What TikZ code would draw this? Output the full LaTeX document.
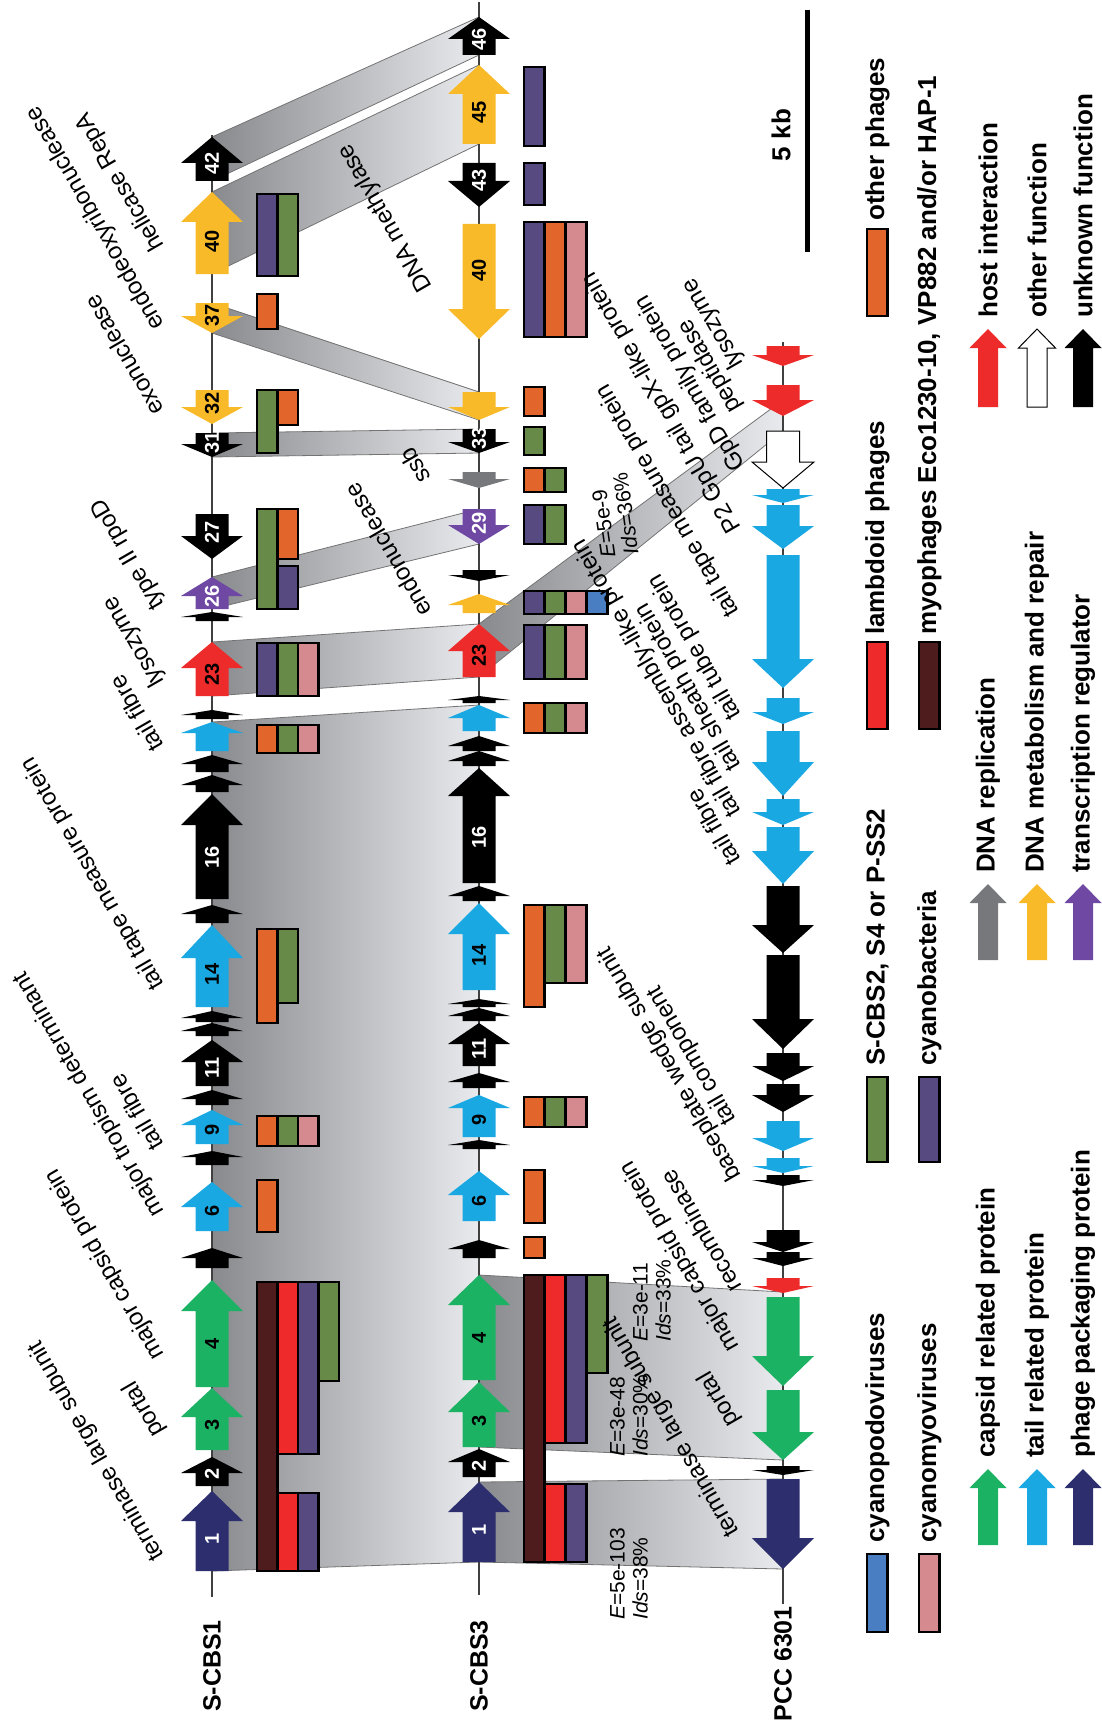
\documentclass[tikz,border=0pt]{standalone}
\usepackage{fontspec}
\setmainfont{Liberation Sans}
\definecolor{cNavy}{RGB}{44,46,110}
\definecolor{cCapsid}{RGB}{28,178,100}
\definecolor{cTail}{RGB}{26,168,226}
\definecolor{cRed}{RGB}{238,43,43}
\definecolor{cYel}{RGB}{248,186,40}
\definecolor{cPurp}{RGB}{110,72,162}
\definecolor{cGrayA}{RGB}{118,120,124}
\definecolor{bGreen}{RGB}{104,138,72}
\definecolor{bPurp}{RGB}{86,74,128}
\definecolor{bOrange}{RGB}{226,102,44}
\definecolor{bRed}{RGB}{238,42,42}
\definecolor{bBrown}{RGB}{78,28,28}
\definecolor{bBlue}{RGB}{74,126,194}
\definecolor{bPink}{RGB}{212,138,142}
\definecolor{bandDark}{RGB}{136,138,142}
\definecolor{bandLight}{RGB}{232,234,237}
\newcommand{\gene}[5]{\fill[#5] (#1-16.5,#2) -- (#1-16.5,#3) -- (#1-31,#3) -- (#1,#4) -- (#1+31,#3) -- (#1+16.5,#3) -- (#1+16.5,#2) -- cycle;}
\newcommand{\gnum}[6]{\node[num,text=#5] (#6) at (#1,{#3+0.6*(#2-#3)}) {#4};}
\newcommand{\bx}[4]{\filldraw[fill=#4,draw=black,line width=2.6pt] (#1,#2) rectangle (#1+20.5,#3);}
\newcommand{\band}[6]{\path[bandst] (#1,#2) -- (#4,#5) -- (#4,#6) -- (#1,#3) -- cycle;}
\newcommand{\lgarrow}[5]{\filldraw[#5] (#1-10,#2) -- (#1-10,#3) -- (#1-18.5,#3) -- (#1,#4) -- (#1+18.5,#3) -- (#1+10,#3) -- (#1+10,#2) -- cycle;}
\begin{document}
\begin{tikzpicture}[x=1pt,y=-1pt,
  num/.style={font=\bfseries\fontsize{20}{20}\selectfont, rotate=90, inner sep=0pt},
  glab/.style={font=\fontsize{24}{28}\selectfont, rotate=120, anchor=base west, inner sep=0pt},
  evl/.style={font=\fontsize{21}{23}\selectfont, rotate=90, anchor=west, align=left, inner sep=0pt},
  gname/.style={font=\bfseries\fontsize{25}{28}\selectfont, rotate=90, anchor=east, inner sep=0pt},
  legt/.style={font=\bfseries\fontsize{26}{30}\selectfont, rotate=90, anchor=west, inner sep=0pt},
  bandst/.style={draw=black!55, line width=0.8pt, left color=bandDark, right color=bandLight},
  gline/.style={draw=black!75, line width=1.6pt}]
\useasboundingbox (0,0) rectangle (1101,1720);
\def\xa{212}\def\xb{479}\def\xc{783}
% ---------- homology bands ----------
\band{\xa}{137}{181}{\xb}{17}{55}
\band{\xa}{192}{274}{\xb}{65}{144}
\band{\xa}{303}{333}{\xb}{392}{420}
\band{\xa}{433}{457}{\xb}{429}{453}
\band{\xa}{577}{609}{\xb}{509}{544}
\band{\xa}{642}{696}{\xb}{624}{677}
\band{\xa}{722}{1571}{\xb}{705}{1562}
\band{\xb}{1482}{1562}{\xc}{1479}{1569}
\band{\xb}{1275}{1447}{\xc}{1292}{1460}
\band{\xb}{624}{677}{\xc}{400}{431}
% ---------- genome lines ----------
\draw[gline] (\xa,135) -- (\xa,1597);
\draw[gline] (\xb,2) -- (\xb,1595);
\draw[gline] (\xc,342) -- (\xc,1604);
% ---------- S-CBS1 genes ----------
\gene{\xa}{1571}{1521}{1491}{cNavy}\gnum{\xa}{1571}{1491}{1}{white}{a1}
\gene{\xa}{1486}{1473}{1457}{black}\gnum{\xa}{1486}{1457}{2}{white}{a2}
\gene{\xa}{1450}{1417}{1388}{cCapsid}\gnum{\xa}{1450}{1388}{3}{black}{a3}
\gene{\xa}{1387}{1311}{1280}{cCapsid}\gnum{\xa}{1387}{1280}{4}{black}{a4}
\gene{\xa}{1268}{1258}{1248}{black}
\gene{\xa}{1231}{1207}{1182}{cTail}\gnum{\xa}{1231}{1182}{6}{black}{a6}
\gene{\xa}{1165}{1157}{1151}{black}
\gene{\xa}{1144}{1125}{1110}{cTail}\gnum{\xa}{1144}{1110}{9}{black}{a9}
\gene{\xa}{1105}{1099}{1090}{black}
\gene{\xa}{1086}{1062}{1040}{black}\gnum{\xa}{1086}{1040}{11}{white}{a11}
\gene{\xa}{1036}{1031}{1023}{black}
\gene{\xa}{1022}{1018}{1011}{black}
\gene{\xa}{1007}{958}{925}{cTail}\gnum{\xa}{1007}{925}{14}{black}{a14}
\gene{\xa}{923}{914}{905}{black}
\gene{\xa}{899}{825}{794}{black}\gnum{\xa}{899}{794}{16}{white}{a16}
\gene{\xa}{792}{785}{775}{black}
\gene{\xa}{772}{764}{755}{black}
\gene{\xa}{751}{733}{722}{cTail}
\gene{\xa}{719}{715}{710}{black}
\gene{\xa}{696}{668}{642}{cRed}\gnum{\xa}{696}{642}{23}{black}{a23}
\gene{\xa}{621}{617}{612}{black}
\gene{\xa}{609}{596}{577}{cPurp}\gnum{\xa}{609}{577}{26}{white}{a26}
\gene{\xa}{514}{536}{559}{black}\gnum{\xa}{514}{559}{27}{white}{a27}
\gene{\xa}{433}{444}{457}{black}\gnum{\xa}{433}{457}{31}{white}{a31}
\gene{\xa}{390}{407}{424}{cYel}\gnum{\xa}{390}{424}{32}{black}{a32}
\gene{\xa}{303}{316}{333}{cYel}\gnum{\xa}{303}{333}{37}{black}{a37}
\gene{\xa}{274}{222}{192}{cYel}\gnum{\xa}{274}{192}{40}{black}{a40}
\gene{\xa}{181}{163}{137}{black}\gnum{\xa}{181}{137}{42}{white}{a42}
% ---------- S-CBS3 genes ----------
\gene{\xb}{55}{39}{17}{black}\gnum{\xb}{55}{17}{46}{white}{b46}
\gene{\xb}{144}{94}{65}{cYel}\gnum{\xb}{144}{65}{45}{black}{b45}
\gene{\xb}{163}{181}{207}{black}\gnum{\xb}{163}{207}{43}{white}{b43}
\gene{\xb}{224}{309}{339}{cYel}\gnum{\xb}{224}{339}{40}{black}{b40}
\gene{\xb}{392}{407}{420}{cYel}
\gene{\xb}{429}{442}{453}{black}\gnum{\xb}{429}{453}{33}{white}{b33}
\gene{\xb}{472}{479}{488}{cGrayA}
\gene{\xb}{509}{525}{544}{cPurp}\gnum{\xb}{509}{544}{29}{white}{b29}
\gene{\xb}{570}{575}{581}{black}
\gene{\xb}{613}{605}{594}{cYel}
\gene{\xb}{677}{651}{624}{cRed}\gnum{\xb}{677}{624}{23}{black}{b23}
\gene{\xb}{703}{700}{696}{black}
\gene{\xb}{731}{718}{705}{cTail}
\gene{\xb}{751}{746}{736}{black}
\gene{\xb}{766}{761}{751}{black}
\gene{\xb}{883}{796}{768}{black}\gnum{\xb}{883}{768}{16}{white}{b16}
\gene{\xb}{901}{896}{886}{black}
\gene{\xb}{990}{934}{903}{cTail}\gnum{\xb}{990}{903}{14}{black}{b14}
\gene{\xb}{1007}{1004}{999}{black}
\gene{\xb}{1021}{1016}{1008}{black}
\gene{\xb}{1066}{1044}{1023}{black}\gnum{\xb}{1066}{1023}{11}{white}{b11}
\gene{\xb}{1088}{1082}{1073}{black}
\gene{\xb}{1137}{1108}{1095}{cTail}\gnum{\xb}{1137}{1095}{9}{black}{b9}
\gene{\xb}{1149}{1145}{1140}{black}
\gene{\xb}{1221}{1195}{1171}{cTail}\gnum{\xb}{1221}{1171}{6}{black}{b6}
\gene{\xb}{1258}{1249}{1240}{black}
\gene{\xb}{1380}{1305}{1275}{cCapsid}\gnum{\xb}{1380}{1275}{4}{black}{b4}
\gene{\xb}{1447}{1412}{1382}{cCapsid}\gnum{\xb}{1447}{1382}{3}{black}{b3}
\gene{\xb}{1477}{1462}{1449}{black}\gnum{\xb}{1477}{1449}{2}{white}{b2}
\gene{\xb}{1562}{1512}{1482}{cNavy}\gnum{\xb}{1562}{1482}{1}{white}{b1}
% ---------- PCC 6301 genes ----------
\gene{\xc}{346}{355}{366}{cRed}
\gene{\xc}{385}{400}{416}{cRed}
\filldraw[fill=white,draw=black,line width=1pt] (\xc-16.5,431) -- (\xc-16.5,462) -- (\xc-31,462) -- (\xc,488) -- (\xc+31,462) -- (\xc+16.5,462) -- (\xc+16.5,431) -- cycle;
\gene{\xc}{489}{495}{503}{cTail}
\gene{\xc}{505}{526}{549}{cTail}
\gene{\xc}{555}{659}{688}{cTail}
\gene{\xc}{698}{712}{724}{cTail}
\gene{\xc}{731}{762}{796}{cTail}
\gene{\xc}{799}{812}{825}{cTail}
\gene{\xc}{827}{851}{884}{cTail}
\gene{\xc}{886}{925}{953}{black}
\gene{\xc}{955}{1019}{1049}{black}
\gene{\xc}{1053}{1066}{1081}{black}
\gene{\xc}{1084}{1095}{1112}{black}
\gene{\xc}{1121}{1138}{1151}{cTail}
\gene{\xc}{1158}{1166}{1173}{cTail}
\gene{\xc}{1175}{1180}{1186}{black}
\gene{\xc}{1230}{1242}{1252}{black}
\gene{\xc}{1252}{1258}{1266}{black}
\gene{\xc}{1278}{1286}{1293}{cRed}
\gene{\xc}{1297}{1356}{1386}{cCapsid}
\gene{\xc}{1390}{1432}{1460}{cCapsid}
\gene{\xc}{1466}{1470}{1475}{black}
\gene{\xc}{1479}{1538}{1569}{cNavy}
% ---------- S-CBS1 boxes ----------
\def\ca{257}\def\cb{277.5}\def\cc{298}\def\cd{318.5}
\bx{\ca}{194}{276}{bPurp}\bx{\cb}{194}{276}{bGreen}
\bx{\ca}{294}{329}{bOrange}
\bx{\ca}{390}{453}{bGreen}\bx{\cb}{390}{425}{bOrange}
\bx{\ca}{509}{609}{bGreen}\bx{\cb}{509}{559}{bOrange}\bx{\cb}{566}{609}{bPurp}
\bx{\ca}{643}{696}{bPurp}\bx{\cb}{643}{696}{bGreen}\bx{\cc}{643}{696}{bPink}
\bx{\ca}{725}{753}{bOrange}\bx{\cb}{725}{753}{bGreen}\bx{\cc}{725}{753}{bPink}
\bx{\ca}{929}{1023}{bOrange}\bx{\cb}{929}{1003}{bGreen}
\bx{\ca}{1116}{1146}{bOrange}\bx{\cb}{1116}{1146}{bGreen}\bx{\cc}{1116}{1146}{bPink}
\bx{\ca}{1180}{1232}{bOrange}
\bx{\ca}{1282}{1571}{bBrown}
\bx{\cb}{1282}{1454}{bRed}\bx{\cc}{1282}{1454}{bPurp}\bx{\cd}{1282}{1381}{bGreen}
\bx{\cb}{1493}{1571}{bRed}\bx{\cc}{1493}{1571}{bPurp}
% ---------- S-CBS3 boxes ----------
\def\da{524}\def\db{545}\def\dc{566}\def\dd{587}
\bx{\da}{67}{146}{bPurp}
\bx{\da}{163}{205}{bPurp}
\bx{\da}{222}{337}{bPurp}\bx{\db}{222}{337}{bOrange}\bx{\dc}{222}{337}{bPink}
\bx{\da}{387}{416}{bOrange}
\bx{\da}{427}{455}{bGreen}
\bx{\da}{468}{492}{bOrange}\bx{\db}{468}{492}{bGreen}
\bx{\da}{505}{544}{bPurp}\bx{\db}{505}{544}{bGreen}
\bx{\da}{591}{614}{bPurp}\bx{\db}{591}{614}{bGreen}\bx{\dc}{591}{614}{bPink}\bx{\dd}{591}{614}{bBlue}
\bx{\da}{625}{679}{bPurp}\bx{\db}{625}{679}{bGreen}\bx{\dc}{625}{679}{bPink}
\bx{\da}{703}{733}{bOrange}\bx{\db}{703}{733}{bGreen}\bx{\dc}{703}{733}{bPink}
\bx{\da}{905}{1007}{bOrange}\bx{\db}{905}{983}{bGreen}\bx{\dc}{905}{983}{bPink}
\bx{\da}{1097}{1127}{bOrange}\bx{\db}{1097}{1127}{bGreen}\bx{\dc}{1097}{1127}{bPink}
\bx{\da}{1170}{1223}{bOrange}
\bx{\da}{1237}{1258}{bOrange}
\bx{\da}{1275}{1562}{bBrown}
\bx{\db}{1275}{1443}{bRed}\bx{\dc}{1275}{1443}{bPurp}\bx{\dd}{1275}{1373}{bGreen}
\bx{\db}{1484}{1562}{bRed}\bx{\dc}{1484}{1562}{bPurp}
% ---------- genome names ----------
\node[gname] (n1) at (\xa,1620) {S-CBS1};
\node[gname] (n2) at (\xb,1620) {S-CBS3};
\node[gname] (n3) at (\xc,1606) {PCC 6301};
% ---------- S-CBS1 labels ----------
\node[glab] (s1) at (165,1556) {terminase large subunit};
\node[glab] (s2) at (165,1432) {portal};
\node[glab] (s3) at (165,1355) {major capsid protein};
\node[glab] (s4) at (165,1212) {major tropism determinant};
\node[glab] (s5) at (165,1145) {tail fibre};
\node[glab] (s6) at (165,985) {tail tape measure protein};
\node[glab] (s7) at (165,746) {tail fibre};
\node[glab] (s8) at (165,682) {lysozyme};
\node[glab] (s9) at (165,605) {type II rpoD};
\node[glab] (s10) at (165,410) {exonuclease};
\node[glab] (s11) at (165,325) {endodeoxyribonuclease};
\node[glab] (s12) at (165,246) {helicase RepA};
% ---------- S-CBS3 labels ----------
\node[glab] (t1) at (433,287) {DNA methylase};
\node[glab] (t2) at (432,478) {ssb};
\node[glab] (t3) at (433,611) {endonuclease};
% ---------- PCC labels ----------
\node[glab] (p1) at (744,364) {lysozyme};
\node[glab] (p2) at (742,408) {peptidase};
\node[glab] (p3) at (746,466) {GpD family protein};
\node[glab] (p4) at (742,528) {P2 GpU tail gpX-like protein};
\node[glab] (p5) at (740,612) {tail tape measure protein};
\node[glab] (p6) at (742,715) {tail tube protein};
\node[glab] (p7) at (742,766) {tail sheath protein};
\node[glab] (p8) at (742,812) {tail fibre assembly-like protein};
\node[glab] (p9) at (742,860) {tail fibre};
\node[glab] (p10) at (737,1120) {tail component};
\node[glab] (p11) at (742,1176) {baseplate wedge subunit};
\node[glab] (p12) at (743,1287) {recombinase};
\node[glab] (p13) at (740,1347) {major capsid protein};
\node[glab] (p14) at (740,1422) {portal};
\node[glab] (p15) at (740,1532) {terminase large subunit};
% ---------- E values ----------
\node[evl] (e1) at (629,1620) {\textit{E}=5e-103\\\textit{Ids}=38\%};
\node[evl] (e2) at (629,1457) {\textit{E}=3e-48\\\textit{Ids}=30\%};
\node[evl] (e3) at (652,1342) {\textit{E}=3e-11\\\textit{Ids}=33\%};
\node[evl,rotate=8] (e4) at (620,556) {\textit{E}=5e-9\\\textit{Ids}=36\%};
% ---------- scale bar ----------
\draw[line width=5pt] (807,10) -- (807,252);
\node[font=\bfseries\fontsize{26}{30}\selectfont, rotate=90, inner sep=0pt] (kb) at (781,135) {5 kb};
% ---------- legend boxes ----------
\bx{867}{229}{316}{bOrange}\node[legt] (L1) at (877.5,221) {other phages};
\bx{867}{642}{729}{bRed}\node[legt] (L2) at (877.5,635) {lambdoid phages};
\bx{919}{642}{729}{bBrown}\node[legt] (L3) at (929.5,635) {myophages Eco1230-10, VP882 and/or HAP-1};
\bx{867}{1077}{1162}{bGreen}\node[legt] (L4) at (877.5,1066) {S-CBS2, S4 or P-SS2};
\bx{919}{1077}{1162}{bPurp}\node[legt] (L5) at (929.5,1066) {cyanobacteria};
\bx{867}{1554}{1632}{bBlue}\node[legt] (L6) at (877.5,1543) {cyanopodoviruses};
\bx{919}{1554}{1632}{bPink}\node[legt] (L7) at (929.5,1543) {cyanomyoviruses};
% ---------- legend arrows ----------
\lgarrow{988}{407}{348}{329}{fill=cRed,draw=none}\node[legt] (A1) at (988,318) {host interaction};
\lgarrow{1037}{407}{348}{329}{fill=white,draw=black,line width=1pt}\node[legt] (A2) at (1037,318) {other function};
\lgarrow{1083}{407}{348}{329}{fill=black,draw=none}\node[legt] (A3) at (1083,318) {unknown function};
\lgarrow{988}{960}{903}{884}{fill=cGrayA,draw=none}\node[legt] (A4) at (988,873) {DNA replication};
\lgarrow{1037}{960}{903}{884}{fill=cYel,draw=none}\node[legt] (A5) at (1037,873) {DNA metabolism and repair};
\lgarrow{1083}{960}{903}{884}{fill=cPurp,draw=none}\node[legt] (A6) at (1083,873) {transcription regulator};
\lgarrow{988}{1545}{1488}{1469}{fill=cCapsid,draw=none}\node[legt] (A7) at (988,1458) {capsid related protein};
\lgarrow{1037}{1545}{1488}{1469}{fill=cTail,draw=none}\node[legt] (A8) at (1037,1458) {tail related protein};
\lgarrow{1083}{1545}{1488}{1469}{fill=cNavy,draw=none}\node[legt] (A9) at (1083,1458) {phage packaging protein};
\end{tikzpicture}
\end{document}
